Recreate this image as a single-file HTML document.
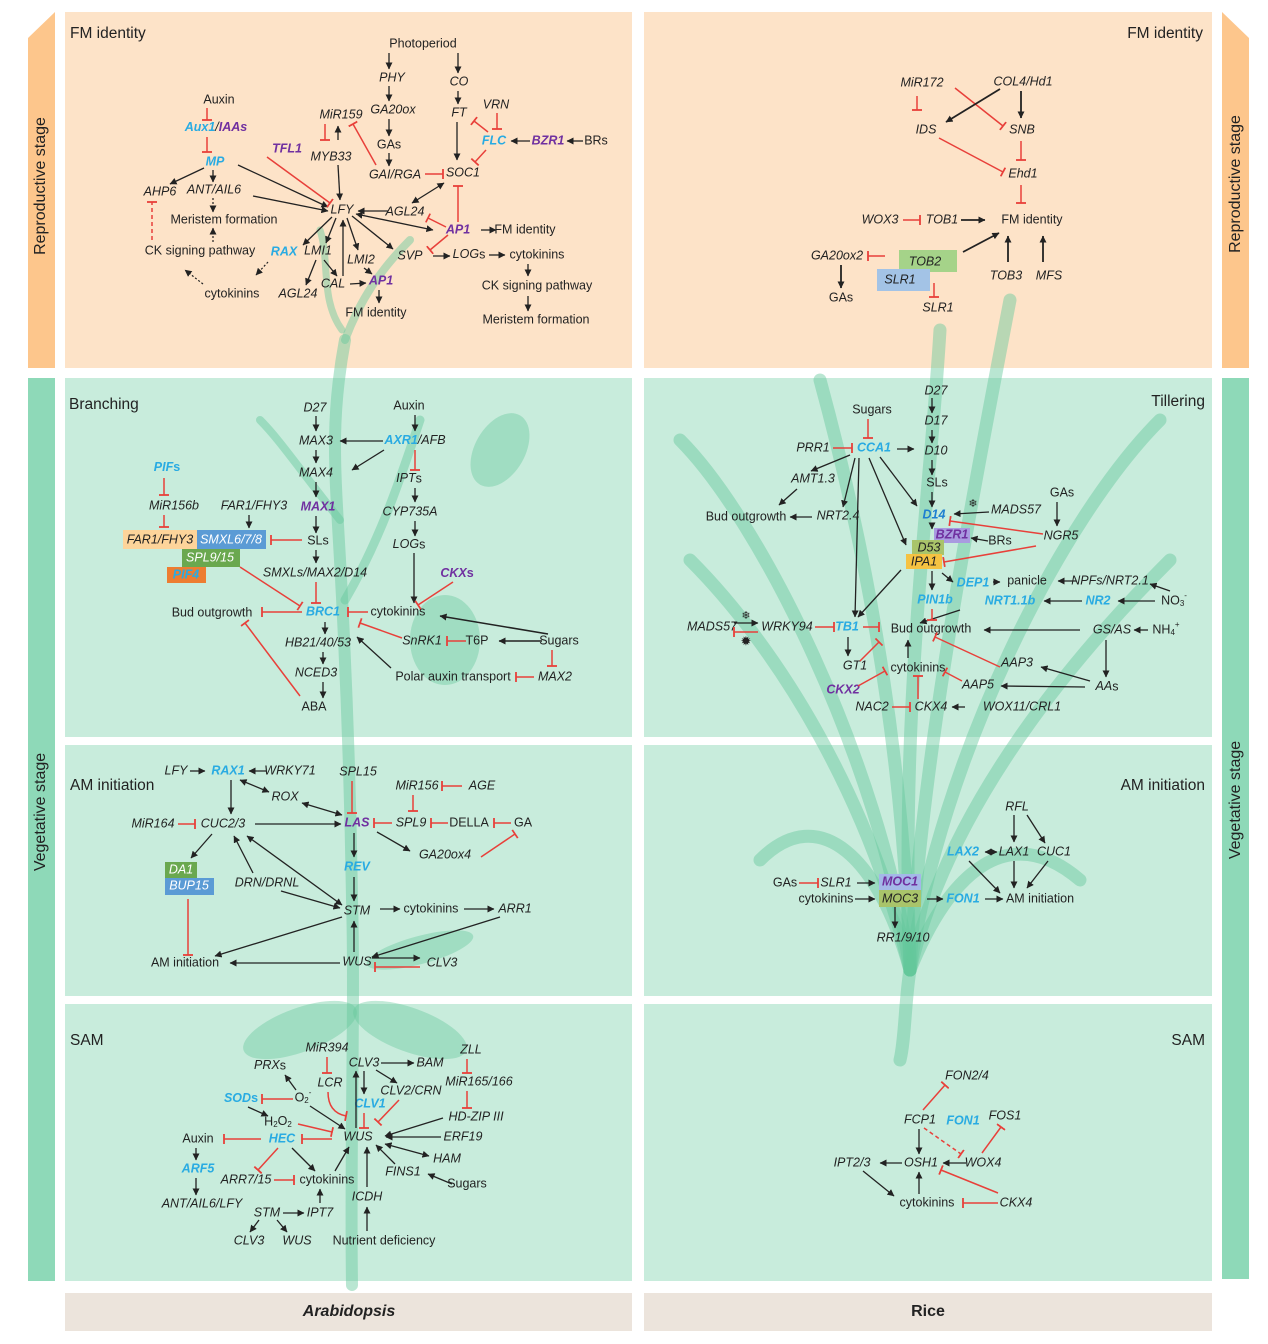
<!DOCTYPE html>
<html><head><meta charset="utf-8"><style>
html,body{margin:0;padding:0;background:#fff}
svg{display:block}
text{font-family:"Liberation Sans",Arial,sans-serif;font-size:12.5px;fill:#222;text-anchor:middle;dominant-baseline:middle}
.i{font-style:italic}
.bl{font-style:italic;font-weight:bold;fill:#29abe2}
.pu{font-style:italic;font-weight:bold;fill:#7030a0}
.lab{font-size:15.5px;text-anchor:start}
.labr{font-size:15.5px;text-anchor:end}
.side{font-size:16px}
.k{stroke:#222;stroke-width:1.3;fill:none;marker-end:url(#a)}
.kk{stroke:#222;stroke-width:1.3;fill:none;marker-end:url(#a);marker-start:url(#a)}
.r{stroke:#e8403a;stroke-width:1.5;fill:none;marker-end:url(#t)}
.rd{stroke:#e8403a;stroke-width:1.5;fill:none;marker-end:url(#t);stroke-dasharray:4 3}
.kd{stroke:#222;stroke-width:1.2;fill:none;marker-end:url(#a);stroke-dasharray:2 2}
.pl{stroke:rgba(100,200,155,0.45);fill:none;stroke-linecap:round}
.lf{fill:rgba(100,200,155,0.4)}
</style></head><body>
<svg width="1268" height="1344" viewBox="0 0 1268 1344" xmlns="http://www.w3.org/2000/svg">
<defs>
<marker id="a" viewBox="0 0 8 8" refX="7.5" refY="4" markerWidth="7" markerHeight="7" markerUnits="userSpaceOnUse" orient="auto-start-reverse"><path d="M0,0 L8,4 L0,8 z" fill="#222"/></marker>
<marker id="t" viewBox="0 -5 2 10" refX="1" refY="0" markerWidth="2" markerHeight="10" markerUnits="userSpaceOnUse" orient="auto"><path d="M1,-5 L1,5" stroke="#e8403a" stroke-width="1.8"/></marker>
</defs>

<!-- backgrounds -->
<polygon points="28,38 55,12 55,368 28,368" fill="#fdc68c"/>
<polygon points="1222,12 1249,38 1249,368 1222,368" fill="#fdc68c"/>
<rect x="28" y="378" width="27" height="903" fill="#8ed9b8"/>
<rect x="1222" y="378" width="27" height="901" fill="#8ed9b8"/>
<rect x="65" y="12" width="567" height="356" fill="#fde3c8"/>
<rect x="644" y="12" width="568" height="356" fill="#fde3c8"/>
<rect x="65" y="378" width="567" height="359" fill="#c8ecdc"/>
<rect x="644" y="378" width="568" height="359" fill="#c8ecdc"/>
<rect x="65" y="745" width="567" height="251" fill="#c8ecdc"/>
<rect x="644" y="745" width="568" height="251" fill="#c8ecdc"/>
<rect x="65" y="1004" width="567" height="277" fill="#c8ecdc"/>
<rect x="644" y="1004" width="568" height="277" fill="#c8ecdc"/>
<rect x="65" y="1293" width="567" height="38" fill="#ece4dc"/>
<rect x="644" y="1293" width="568" height="38" fill="#ece4dc"/>

<text class="side" transform="translate(41,186) rotate(-90)">Reproductive stage</text>
<text class="side" transform="translate(1236,184) rotate(-90)">Reproductive stage</text>
<text class="side" transform="translate(41,812) rotate(-90)">Vegetative stage</text>
<text class="side" transform="translate(1236,800) rotate(-90)">Vegetative stage</text>
<text x="349" y="1312" style="font-size:16px;font-weight:bold;font-style:italic">Arabidopsis</text>
<text x="928" y="1312" style="font-size:16px;font-weight:bold">Rice</text>

<!-- plant silhouettes -->
<path class="pl" stroke-width="12" d="M352,1285 C350,1150 355,1000 352,900 C350,760 345,650 340,560 C335,470 330,420 345,340"/>
<path class="pl" stroke-width="9" d="M345,600 C380,540 400,480 420,420"/>
<path class="pl" stroke-width="8" d="M340,520 C300,470 280,440 260,420"/>
<path class="pl" stroke-width="8" d="M345,340 C360,300 380,270 410,240"/>
<path class="pl" stroke-width="7" d="M342,330 C320,300 330,260 320,230"/>
<ellipse class="lf" cx="300" cy="1030" rx="60" ry="22" transform="rotate(-20 300 1030)"/>
<ellipse class="lf" cx="410" cy="1030" rx="60" ry="22" transform="rotate(20 410 1030)"/>
<ellipse class="lf" cx="420" cy="950" rx="55" ry="14" transform="rotate(-15 420 950)"/>
<ellipse class="lf" cx="445" cy="640" rx="35" ry="45"/>
<ellipse class="lf" cx="500" cy="450" rx="25" ry="40" transform="rotate(30 500 450)"/>
<g class="pl" stroke-width="13">
<path d="M910,970 C905,800 880,600 820,380"/>
<path d="M910,970 C920,780 960,560 1010,300"/>
<path d="M910,970 C870,800 780,650 690,560"/>
<path d="M910,970 C950,800 1080,650 1170,560"/>
<path d="M910,970 C880,760 760,520 680,440"/>
<path d="M910,970 C940,760 1060,520 1160,420"/>
<path d="M910,970 C900,700 930,500 940,330"/>
<path d="M910,970 C880,860 820,800 760,860"/>
<path d="M910,970 C950,870 1010,820 1080,880"/>
<path d="M910,970 C905,1000 905,1040 900,1060"/>
</g>

<!-- ===== FM identity left ===== -->
<text class="lab" x="70" y="34">FM identity</text>
<text x="423" y="44">Photoperiod</text>
<text class="i" x="392" y="78">PHY</text><text class="i" x="459" y="82">CO</text>
<text x="219" y="100">Auxin</text><text class="i" x="341" y="115">MiR159</text>
<text class="i" x="393" y="110">GA20ox</text><text class="i" x="459" y="113">FT</text><text class="i" x="496" y="105">VRN</text>
<text x="216" y="128"><tspan class="bl">Aux1</tspan><tspan class="i">/</tspan><tspan class="pu">IAAs</tspan></text>
<text class="bl" x="494" y="141">FLC</text><text class="pu" x="548" y="141">BZR1</text><text x="596" y="141">BRs</text>
<text x="389" y="145">GAs</text>
<text class="pu" x="287" y="149">TFL1</text><text class="i" x="331" y="157">MYB33</text>
<text class="bl" x="215" y="162">MP</text>
<text class="i" x="395" y="175">GAI/RGA</text><text class="i" x="463" y="173">SOC1</text>
<text class="i" x="160" y="192">AHP6</text><text class="i" x="214" y="190">ANT/AIL6</text>
<text class="i" x="342" y="210">LFY</text><text class="i" x="405" y="212">AGL24</text>
<text x="224" y="220">Meristem formation</text>
<text class="pu" x="458" y="230">AP1</text><text x="525" y="230">FM identity</text>
<text x="200" y="251">CK signing pathway</text><text class="bl" x="284" y="252">RAX</text>
<text class="i" x="318" y="251">LMI1</text><text class="i" x="361" y="260">LMI2</text><text class="i" x="410" y="256">SVP</text>
<text x="469" y="255"><tspan class="i">LOG</tspan>s</text><text x="537" y="255">cytokinins</text>
<text class="i" x="333" y="284">CAL</text><text class="pu" x="381" y="281">AP1</text>
<text class="i" x="298" y="294">AGL24</text><text x="232" y="294">cytokinins</text>
<text x="537" y="286">CK signing pathway</text><text x="376" y="313">FM identity</text><text x="536" y="320">Meristem formation</text>
<line class="k" x1="389" y1="53" x2="389" y2="69"/><line class="k" x1="458" y1="53" x2="458" y2="73"/>
<line class="k" x1="389" y1="86" x2="389" y2="101"/><line class="k" x1="458" y1="91" x2="458" y2="104"/>
<line class="k" x1="389" y1="119" x2="389" y2="136"/><line class="k" x1="389" y1="153" x2="389" y2="166"/>
<line class="k" x1="457" y1="122" x2="457" y2="160"/>
<line class="r" x1="497" y1="113" x2="497" y2="129"/><line class="r" x1="488" y1="132" x2="474" y2="121"/>
<line class="r" x1="486" y1="150" x2="475" y2="162"/>
<line class="k" x1="530" y1="141" x2="511" y2="141"/><line class="k" x1="583" y1="141" x2="567" y2="141"/>
<line class="r" x1="425" y1="174" x2="443" y2="174"/>
<line class="r" x1="325" y1="124" x2="325" y2="140"/><line class="k" x1="338" y1="140" x2="338" y2="126"/>
<line class="r" x1="376" y1="165" x2="353" y2="124"/>
<line class="r" x1="207" y1="108" x2="207" y2="120"/><line class="r" x1="207" y1="137" x2="207" y2="152"/>
<line class="k" x1="204" y1="168" x2="170" y2="184"/><line class="k" x1="213" y1="170" x2="213" y2="182"/>
<line class="k" x1="238" y1="165" x2="328" y2="207"/><line class="k" x1="253" y1="196" x2="328" y2="211"/>
<line class="r" x1="267" y1="157" x2="330" y2="203"/><line class="k" x1="338" y1="165" x2="340" y2="200"/>
<line class="kk" x1="444" y1="183" x2="412" y2="203"/><line class="k" x1="388" y1="211" x2="358" y2="211"/>
<line class="r" x1="446" y1="227" x2="428" y2="218"/><line class="kk" x1="356" y1="214" x2="433" y2="230"/>
<line class="r" x1="458" y1="222" x2="458" y2="186"/><line class="r" x1="448" y1="235" x2="430" y2="250"/>
<line class="k" x1="481" y1="230" x2="496" y2="230"/>
<line class="k" x1="332" y1="217" x2="303" y2="245"/><line class="k" x1="336" y1="218" x2="326" y2="243"/>
<line class="k" x1="343" y1="276" x2="343" y2="220"/><line class="k" x1="347" y1="218" x2="358" y2="250"/>
<line class="k" x1="352" y1="216" x2="393" y2="249"/>
<line class="k" x1="316" y1="260" x2="306" y2="285"/><line class="k" x1="324" y1="260" x2="337" y2="276"/>
<line class="k" x1="350" y1="284" x2="366" y2="283"/><line class="k" x1="364" y1="268" x2="372" y2="274"/>
<line class="k" x1="379" y1="290" x2="379" y2="303"/>
<line class="k" x1="433" y1="256" x2="450" y2="256"/><line class="k" x1="489" y1="255" x2="505" y2="255"/>
<line class="k" x1="528" y1="264" x2="528" y2="276"/><line class="k" x1="528" y1="296" x2="528" y2="311"/>
<line class="kd" x1="213" y1="198" x2="213" y2="212"/><line class="kd" x1="213" y1="242" x2="213" y2="228"/>
<line class="rd" x1="152" y1="240" x2="152" y2="202"/>
<line class="kd" x1="203" y1="284" x2="185" y2="270"/><line class="kd" x1="268" y1="262" x2="256" y2="275"/>

<!-- ===== FM identity right ===== -->
<text class="labr" x="1203" y="34">FM identity</text>
<text class="i" x="922" y="83">MiR172</text><text class="i" x="1023" y="82">COL4/Hd1</text>
<text class="i" x="926" y="130">IDS</text><text class="i" x="1022" y="130">SNB</text><text class="i" x="1023" y="174">Ehd1</text>
<text class="i" x="880" y="220">WOX3</text><text class="i" x="942" y="220">TOB1</text><text x="1032" y="220">FM identity</text>
<text class="i" x="837" y="256">GA20ox2</text>
<rect x="899" y="250" width="58" height="22" fill="#a5d389"/>
<rect x="877" y="269" width="53" height="22" fill="#a3c3e6"/>
<text class="i" x="925" y="262">TOB2</text><text class="i" x="900" y="280">SLR1</text>
<text class="i" x="1006" y="276">TOB3</text><text class="i" x="1049" y="276">MFS</text>
<text x="841" y="298">GAs</text><text class="i" x="938" y="308">SLR1</text>
<line class="r" x1="917" y1="96" x2="917" y2="110"/><line class="r" x1="955" y1="88" x2="1003" y2="126"/>
<line class="k" x1="1000" y1="89" x2="946" y2="122" style="stroke-width:1.8"/><line class="k" x1="1021" y1="91" x2="1021" y2="118" style="stroke-width:1.8"/>
<line class="r" x1="1021" y1="141" x2="1021" y2="160"/><line class="r" x1="939" y1="138" x2="1003" y2="172"/>
<line class="r" x1="1021" y1="185" x2="1021" y2="203"/><line class="r" x1="903" y1="220" x2="920" y2="220"/>
<line class="k" x1="961" y1="220" x2="985" y2="220" style="stroke-width:1.8"/><line class="k" x1="963" y1="252" x2="999" y2="233" style="stroke-width:1.8"/>
<line class="k" x1="1008" y1="262" x2="1008" y2="236" style="stroke-width:1.8"/><line class="k" x1="1043" y1="262" x2="1043" y2="236" style="stroke-width:1.8"/>
<line class="r" x1="885" y1="256" x2="868" y2="256"/><line class="k" x1="841" y1="265" x2="841" y2="288" style="stroke-width:1.8"/>
<line class="r" x1="934" y1="283" x2="934" y2="297"/>

<!-- ===== Branching ===== -->
<text class="lab" x="69" y="405">Branching</text>
<text class="i" x="315" y="408">D27</text><text x="409" y="406">Auxin</text>
<text class="i" x="316" y="441">MAX3</text><text x="415" y="441"><tspan class="bl">AXR1</tspan><tspan class="i">/AFB</tspan></text>
<text class="i" x="316" y="473">MAX4</text><text x="409" y="479"><tspan class="i">IPT</tspan>s</text>
<text x="167" y="468"><tspan class="bl">PIF</tspan><tspan style="fill:#29abe2;font-weight:bold">s</tspan></text>
<text class="i" x="174" y="506">MiR156b</text><text class="i" x="254" y="506">FAR1/FHY3</text>
<text class="pu" x="318" y="507">MAX1</text><text class="i" x="410" y="512">CYP735A</text>
<rect x="123" y="530" width="74" height="19" fill="#fdd49a"/>
<rect x="197" y="530" width="69" height="19" fill="#5b9bd5"/>
<rect x="182" y="549" width="58" height="18" fill="#6aa84f"/>
<rect x="167" y="567" width="39" height="16" fill="#ed7d31"/>
<text class="i" x="160" y="540">FAR1/FHY3</text><text class="i" x="231" y="540" style="fill:#fff">SMXL6/7/8</text>
<text class="i" x="210" y="558" style="fill:#fff">SPL9/15</text><text class="bl" x="186" y="575">PIF4</text>
<text x="318" y="541">SLs</text><text x="409" y="545"><tspan class="i">LOG</tspan>s</text>
<text class="i" x="315" y="573">SMXLs/MAX2/D14</text><text x="457" y="574"><tspan class="pu">CKX</tspan><tspan style="fill:#7030a0;font-weight:bold">s</tspan></text>
<text x="212" y="613">Bud outgrowth</text><text class="bl" x="323" y="612">BRC1</text><text x="398" y="612">cytokinins</text>
<text class="i" x="318" y="643">HB21/40/53</text><text class="i" x="422" y="641">SnRK1</text><text x="477" y="641">T6P</text><text x="559" y="641">Sugars</text>
<text class="i" x="316" y="673">NCED3</text><text x="453" y="677">Polar auxin transport</text><text class="i" x="555" y="677">MAX2</text>
<text x="314" y="707">ABA</text>
<line class="k" x1="316" y1="416" x2="316" y2="431"/><line class="k" x1="316" y1="450" x2="316" y2="463"/>
<line class="k" x1="316" y1="482" x2="316" y2="497"/><line class="k" x1="316" y1="516" x2="316" y2="533"/>
<line class="k" x1="316" y1="550" x2="316" y2="563"/><line class="k" x1="383" y1="441" x2="340" y2="441"/>
<line class="k" x1="384" y1="450" x2="352" y2="470"/><line class="k" x1="415" y1="415" x2="415" y2="431"/>
<line class="r" x1="415" y1="450" x2="415" y2="470"/><line class="k" x1="415" y1="488" x2="415" y2="502"/>
<line class="k" x1="415" y1="521" x2="415" y2="536"/><line class="k" x1="414" y1="553" x2="414" y2="603"/>
<line class="r" x1="453" y1="582" x2="418" y2="605"/>
<line class="r" x1="164" y1="478" x2="164" y2="495"/><line class="r" x1="164" y1="515" x2="164" y2="527"/>
<line class="k" x1="249" y1="515" x2="249" y2="528"/><line class="r" x1="302" y1="540" x2="271" y2="540"/>
<line class="r" x1="316" y1="582" x2="316" y2="603"/><line class="r" x1="240" y1="567" x2="300" y2="606"/>
<line class="r" x1="368" y1="612" x2="348" y2="612"/><line class="r" x1="302" y1="612" x2="262" y2="612"/>
<line class="k" x1="325" y1="622" x2="325" y2="634"/><line class="k" x1="323" y1="652" x2="323" y2="664"/>
<line class="k" x1="323" y1="682" x2="323" y2="698"/><line class="r" x1="300" y1="696" x2="245" y2="623"/>
<line class="r" x1="402" y1="638" x2="360" y2="623"/><line class="r" x1="466" y1="641" x2="447" y2="641"/>
<line class="k" x1="542" y1="641" x2="499" y2="641" style="stroke-width:1.6"/><line class="k" x1="548" y1="634" x2="440" y2="616" style="stroke-width:1.6"/>
<line class="r" x1="552" y1="650" x2="552" y2="666"/><line class="r" x1="534" y1="677" x2="516" y2="677"/>
<line class="k" x1="391" y1="668" x2="357" y2="637"/>

<!-- ===== Tillering ===== -->
<text class="labr" x="1205" y="402">Tillering</text>
<text class="i" x="936" y="391">D27</text><text x="872" y="410">Sugars</text><text class="i" x="936" y="421">D17</text>
<text class="i" x="813" y="448">PRR1</text><text class="bl" x="874" y="448">CCA1</text><text class="i" x="936" y="451">D10</text>
<text class="i" x="813" y="479">AMT1.3</text><text x="937" y="483">SLs</text><text x="1062" y="493">GAs</text>
<text x="746" y="517">Bud outgrowth</text><text class="i" x="838" y="516">NRT2.4</text>
<text class="bl" x="934" y="515" style="fill:#1e7fd0">D14</text><text class="i" x="1016" y="510">MADS57</text><text x="973" y="504" style="font-size:11px">❄</text>
<rect x="934" y="528" width="36" height="15" fill="#a99be0"/>
<text class="pu" x="952" y="535">BZR1</text><text x="1000" y="541">BRs</text><text class="i" x="1061" y="536">NGR5</text>
<rect x="912" y="540" width="32" height="15" fill="#a9c46a"/><rect x="906" y="554" width="36" height="15" fill="#f5c242"/>
<text class="i" x="929" y="548">D53</text><text class="i" x="924" y="562">IPA1</text>
<text class="bl" x="973" y="583">DEP1</text><text x="1027" y="581">panicle</text><text class="i" x="1110" y="581">NPFs/NRT2.1</text>
<text class="bl" x="935" y="600">PIN1b</text><text class="bl" x="1010" y="601">NRT1.1b</text><text class="bl" x="1098" y="601">NR2</text>
<text x="1174" y="601">NO<tspan style="font-size:8px" dy="3">3</tspan><tspan style="font-size:8px" dy="-8">-</tspan></text>
<text class="i" x="712" y="627">MADS57</text><text class="i" x="787" y="627">WRKY94</text><text class="bl" x="847" y="627">TB1</text>
<text x="931" y="629">Bud outgrowth</text><text class="i" x="1112" y="630">GS/AS</text>
<text x="1166" y="630">NH<tspan style="font-size:8px" dy="3">4</tspan><tspan style="font-size:8px" dy="-8">+</tspan></text>
<text x="746" y="616" style="font-size:11px">❄</text><text x="746" y="642" style="font-size:13px">✹</text>
<text class="i" x="855" y="666">GT1</text><text x="918" y="668">cytokinins</text><text class="i" x="1017" y="663">AAP3</text>
<text class="pu" x="843" y="690">CKX2</text><text class="i" x="978" y="685">AAP5</text><text x="1107" y="687"><tspan class="i">AA</tspan>s</text>
<text class="i" x="872" y="707">NAC2</text><text class="i" x="931" y="707">CKX4</text><text class="i" x="1022" y="707">WOX11/CRL1</text>
<line class="k" x1="932" y1="398" x2="932" y2="413"/><line class="k" x1="932" y1="430" x2="932" y2="443"/>
<line class="k" x1="932" y1="460" x2="932" y2="475"/><line class="k" x1="932" y1="492" x2="932" y2="507"/>
<line class="r" x1="868" y1="419" x2="868" y2="438"/><line class="r" x1="833" y1="448" x2="852" y2="448"/>
<line class="k" x1="897" y1="449" x2="914" y2="449"/><line class="k" x1="850" y1="455" x2="811" y2="471"/>
<line class="k" x1="855" y1="458" x2="843" y2="507"/><line class="k" x1="797" y1="489" x2="779" y2="505"/>
<line class="k" x1="812" y1="517" x2="790" y2="517"/><line class="k" x1="859" y1="458" x2="855" y2="617"/>
<line class="k" x1="869" y1="458" x2="906" y2="545"/><line class="k" x1="880" y1="457" x2="917" y2="506"/>
<line class="k" x1="989" y1="512" x2="954" y2="514"/><line class="r" x1="1043" y1="534" x2="950" y2="521"/>
<line class="k" x1="1057" y1="502" x2="1057" y2="526"/><line class="k" x1="932" y1="523" x2="932" y2="529"/>
<line class="k" x1="988" y1="541" x2="971" y2="538"/><line class="r" x1="1036" y1="546" x2="944" y2="562"/>
<line class="k" x1="901" y1="570" x2="858" y2="617"/><line class="k" x1="932" y1="571" x2="932" y2="590"/>
<line class="k" x1="942" y1="573" x2="953" y2="582"/><line class="k" x1="993" y1="582" x2="1000" y2="582"/>
<line class="k" x1="1076" y1="581" x2="1058" y2="581"/><line class="k" x1="1170" y1="591" x2="1150" y2="584"/>
<line class="k" x1="1082" y1="601" x2="1044" y2="601"/><line class="k" x1="1155" y1="601" x2="1118" y2="601"/>
<line class="k" x1="960" y1="610" x2="920" y2="623"/><line class="r" x1="932" y1="609" x2="932" y2="620"/>
<line class="r" x1="863" y1="627" x2="879" y2="627"/><line class="r" x1="815" y1="627" x2="834" y2="627"/>
<line class="k" x1="734" y1="623" x2="758" y2="623"/><line class="r" x1="758" y1="632" x2="734" y2="632"/>
<line class="k" x1="848" y1="637" x2="848" y2="656"/><line class="r" x1="860" y1="661" x2="879" y2="642"/>
<line class="k" x1="1080" y1="630" x2="984" y2="630"/><line class="k" x1="1148" y1="630" x2="1134" y2="630"/>
<line class="k" x1="1106" y1="640" x2="1106" y2="677"/><line class="k" x1="1090" y1="681" x2="1041" y2="667"/>
<line class="k" x1="1085" y1="687" x2="1001" y2="686"/><line class="r" x1="1000" y1="667" x2="935" y2="637"/>
<line class="r" x1="962" y1="681" x2="945" y2="672"/><line class="k" x1="908" y1="658" x2="908" y2="640"/>
<line class="r" x1="858" y1="686" x2="885" y2="671"/><line class="r" x1="918" y1="699" x2="918" y2="676"/>
<line class="r" x1="892" y1="707" x2="910" y2="707"/><line class="k" x1="965" y1="707" x2="952" y2="707"/>

<!-- ===== AM initiation left ===== -->
<text class="lab" x="70" y="786">AM initiation</text>
<text class="i" x="176" y="771">LFY</text><text class="bl" x="228" y="771">RAX1</text><text class="i" x="290" y="771">WRKY71</text>
<text class="i" x="358" y="772">SPL15</text><text class="i" x="285" y="797">ROX</text>
<text class="i" x="417" y="786">MiR156</text><text class="i" x="482" y="786">AGE</text>
<text class="i" x="153" y="824">MiR164</text><text class="i" x="223" y="824">CUC2/3</text><text class="pu" x="357" y="823">LAS</text>
<text class="i" x="411" y="823">SPL9</text><text x="469" y="823">DELLA</text><text x="523" y="823">GA</text>
<text class="i" x="445" y="855">GA20ox4</text>
<rect x="165" y="862" width="32" height="16" fill="#6aa84f"/><rect x="165" y="878" width="49" height="17" fill="#5b9bd5"/>
<text class="i" x="181" y="870" style="fill:#fff">DA1</text><text class="i" x="189" y="886" style="fill:#fff">BUP15</text>
<text class="i" x="267" y="883">DRN/DRNL</text><text class="bl" x="357" y="867">REV</text>
<text class="i" x="357" y="911">STM</text><text x="431" y="909">cytokinins</text><text class="i" x="515" y="909">ARR1</text>
<text x="185" y="963">AM initiation</text><text class="i" x="357" y="962">WUS</text><text class="i" x="442" y="963">CLV3</text>
<line class="k" x1="190" y1="771" x2="205" y2="771"/><line class="k" x1="266" y1="771" x2="249" y2="771"/>
<line class="k" x1="231" y1="780" x2="231" y2="814"/><line class="kk" x1="240" y1="780" x2="269" y2="792"/>
<line class="kk" x1="302" y1="803" x2="342" y2="815"/><line class="r" x1="352" y1="781" x2="352" y2="813"/>
<line class="r" x1="413" y1="795" x2="413" y2="811"/><line class="r" x1="462" y1="786" x2="442" y2="786"/>
<line class="r" x1="178" y1="824" x2="195" y2="824"/><line class="k" x1="255" y1="824" x2="341" y2="824"/>
<line class="r" x1="392" y1="823" x2="374" y2="823"/><line class="r" x1="448" y1="823" x2="431" y2="823"/>
<line class="r" x1="511" y1="823" x2="494" y2="823"/><line class="r" x1="481" y1="857" x2="515" y2="834"/>
<line class="k" x1="377" y1="832" x2="410" y2="851"/><line class="k" x1="212" y1="834" x2="191" y2="858"/>
<line class="k" x1="253" y1="873" x2="234" y2="836"/><line class="kk" x1="342" y1="905" x2="247" y2="836"/>
<line class="k" x1="354" y1="833" x2="354" y2="857"/><line class="k" x1="354" y1="877" x2="354" y2="901"/>
<line class="k" x1="281" y1="891" x2="340" y2="908"/><line class="k" x1="380" y1="909" x2="400" y2="909"/>
<line class="k" x1="464" y1="909" x2="494" y2="909"/><line class="k" x1="500" y1="917" x2="372" y2="957"/>
<line class="k" x1="342" y1="917" x2="215" y2="956"/><line class="k" x1="354" y1="952" x2="354" y2="921"/>
<line class="k" x1="340" y1="963" x2="230" y2="963"/><line class="k" x1="372" y1="958" x2="420" y2="958"/>
<line class="r" x1="420" y1="967" x2="375" y2="967"/><line class="r" x1="188" y1="899" x2="188" y2="955"/>

<!-- ===== AM initiation right ===== -->
<text class="labr" x="1205" y="786">AM initiation</text>
<text class="i" x="1017" y="807">RFL</text><text class="bl" x="963" y="852">LAX2</text>
<text class="i" x="1014" y="852">LAX1</text><text class="i" x="1054" y="852">CUC1</text>
<text x="785" y="883">GAs</text><text class="i" x="836" y="883">SLR1</text>
<rect x="879" y="874" width="42" height="16" fill="#a4b8e8"/><rect x="879" y="890" width="42" height="17" fill="#a9c46a"/>
<text class="pu" x="900" y="882">MOC1</text><text class="i" x="900" y="899">MOC3</text>
<text x="826" y="899">cytokinins</text><text class="bl" x="963" y="899">FON1</text><text x="1040" y="899">AM initiation</text>
<text class="i" x="903" y="938">RR1/9/10</text>
<line class="r" x1="799" y1="883" x2="818" y2="883"/><line class="k" x1="857" y1="883" x2="875" y2="883"/>
<line class="k" x1="855" y1="899" x2="875" y2="899"/><line class="k" x1="927" y1="899" x2="943" y2="899"/>
<line class="k" x1="985" y1="899" x2="1003" y2="899"/><line class="k" x1="895" y1="907" x2="895" y2="928"/>
<line class="k" x1="1014" y1="815" x2="1014" y2="842"/><line class="k" x1="1027" y1="815" x2="1045" y2="843"/>
<line class="kk" x1="985" y1="852" x2="997" y2="852"/><line class="k" x1="969" y1="861" x2="1000" y2="893"/>
<line class="k" x1="1014" y1="861" x2="1014" y2="888"/><line class="k" x1="1048" y1="861" x2="1027" y2="888"/>

<!-- ===== SAM left ===== -->
<text class="lab" x="70" y="1041">SAM</text>
<text class="i" x="327" y="1048">MiR394</text><text class="i" x="471" y="1050">ZLL</text>
<text class="i" x="364" y="1063">CLV3</text><text class="i" x="430" y="1063">BAM</text>
<text x="270" y="1066"><tspan class="i">PRX</tspan>s</text><text class="i" x="330" y="1083">LCR</text>
<text class="i" x="479" y="1082">MiR165/166</text><text class="i" x="411" y="1091">CLV2/CRN</text>
<text x="303" y="1098">O<tspan style="font-size:8px" dy="3">2</tspan><tspan style="font-size:8px" dy="-8">-</tspan></text>
<text x="241" y="1099"><tspan class="bl">SOD</tspan><tspan style="fill:#29abe2;font-weight:bold">s</tspan></text>
<text class="bl" x="370" y="1104">CLV1</text>
<text x="278" y="1122">H<tspan style="font-size:8px" dy="3">2</tspan><tspan dy="-3">O</tspan><tspan style="font-size:8px" dy="3">2</tspan></text>
<text class="i" x="476" y="1117">HD-ZIP III</text>
<text x="198" y="1139">Auxin</text><text class="bl" x="282" y="1139">HEC</text><text class="i" x="358" y="1137">WUS</text>
<text class="i" x="463" y="1137">ERF19</text><text class="i" x="447" y="1159">HAM</text>
<text class="bl" x="198" y="1169">ARF5</text><text class="i" x="246" y="1180">ARR7/15</text><text x="327" y="1180">cytokinins</text>
<text class="i" x="403" y="1172">FINS1</text><text x="467" y="1184">Sugars</text><text class="i" x="367" y="1197">ICDH</text>
<text class="i" x="202" y="1204">ANT/AIL6/LFY</text><text class="i" x="267" y="1213">STM</text><text class="i" x="320" y="1213">IPT7</text>
<text class="i" x="249" y="1241">CLV3</text><text class="i" x="297" y="1241">WUS</text><text x="384" y="1241">Nutrient deficiency</text>
<line class="r" x1="327" y1="1057" x2="327" y2="1073"/><line class="k" x1="381" y1="1063" x2="414" y2="1063"/>
<line class="r" x1="467" y1="1059" x2="467" y2="1073"/><line class="r" x1="467" y1="1091" x2="467" y2="1108"/>
<line class="k" x1="376" y1="1070" x2="397" y2="1083"/><line class="k" x1="364" y1="1071" x2="364" y2="1094"/>
<line class="k" x1="356" y1="1128" x2="356" y2="1071"/><line class="k" x1="296" y1="1090" x2="285" y2="1075"/>
<line class="r" x1="293" y1="1099" x2="262" y2="1099"/><line class="k" x1="248" y1="1107" x2="268" y2="1116"/>
<line class="k" x1="310" y1="1106" x2="345" y2="1129"/><path class="r" d="M328,1092 C328,1108 336,1114 346,1116"/>
<line class="r" x1="298" y1="1124" x2="332" y2="1132"/><line class="r" x1="364" y1="1113" x2="364" y2="1128"/>
<line class="r" x1="399" y1="1100" x2="378" y2="1122"/><line class="k" x1="443" y1="1118" x2="385" y2="1136"/>
<line class="k" x1="441" y1="1137" x2="386" y2="1137"/><line class="kk" x1="385" y1="1144" x2="429" y2="1156"/>
<line class="k" x1="395" y1="1164" x2="376" y2="1145"/><line class="k" x1="452" y1="1184" x2="428" y2="1174"/>
<line class="k" x1="367" y1="1187" x2="367" y2="1147"/><line class="k" x1="367" y1="1231" x2="367" y2="1207"/>
<line class="r" x1="332" y1="1139" x2="302" y2="1139"/><line class="r" x1="261" y1="1139" x2="224" y2="1139"/>
<line class="r" x1="278" y1="1148" x2="258" y2="1170"/><line class="k" x1="292" y1="1148" x2="315" y2="1171"/>
<line class="k" x1="335" y1="1171" x2="349" y2="1147"/><line class="r" x1="274" y1="1180" x2="294" y2="1180"/>
<line class="k" x1="196" y1="1148" x2="196" y2="1160"/><line class="k" x1="196" y1="1178" x2="196" y2="1195"/>
<line class="k" x1="320" y1="1203" x2="320" y2="1189"/><line class="k" x1="283" y1="1213" x2="304" y2="1213"/>
<line class="k" x1="259" y1="1220" x2="250" y2="1232"/><line class="k" x1="277" y1="1220" x2="287" y2="1232"/>

<!-- ===== SAM right ===== -->
<text class="labr" x="1205" y="1041">SAM</text>
<text class="i" x="967" y="1076">FON2/4</text><text class="i" x="920" y="1120">FCP1</text><text class="bl" x="963" y="1121">FON1</text>
<text class="i" x="1005" y="1116">FOS1</text><text class="i" x="852" y="1163">IPT2/3</text><text class="i" x="921" y="1163">OSH1</text>
<text class="i" x="983" y="1163">WOX4</text><text x="927" y="1203">cytokinins</text><text class="i" x="1016" y="1203">CKX4</text>
<line class="r" x1="923" y1="1110" x2="945" y2="1085"/><line class="rd" x1="924" y1="1128" x2="961" y2="1154"/>
<line class="r" x1="982" y1="1153" x2="1001" y2="1127"/><line class="k" x1="919" y1="1129" x2="919" y2="1154"/>
<line class="k" x1="966" y1="1163" x2="943" y2="1163"/><line class="k" x1="902" y1="1163" x2="880" y2="1163"/>
<line class="k" x1="863" y1="1171" x2="894" y2="1196"/><line class="k" x1="919" y1="1194" x2="919" y2="1172"/>
<line class="r" x1="998" y1="1193" x2="941" y2="1170"/><line class="r" x1="998" y1="1203" x2="963" y2="1203"/>
</svg>
</body></html>
